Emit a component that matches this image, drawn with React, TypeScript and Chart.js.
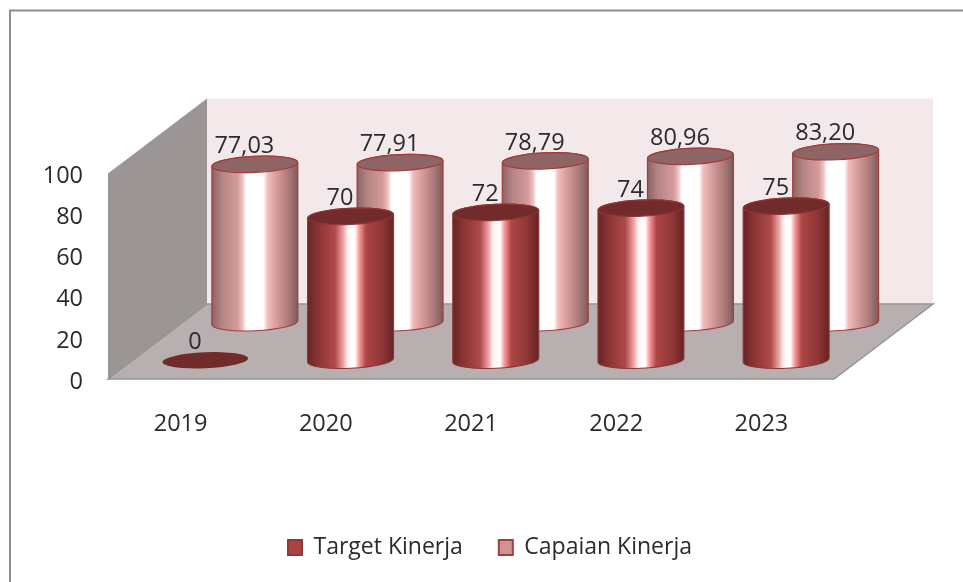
import React, { useEffect, useRef } from "react";
import { Chart, registerables } from "chart.js";

Chart.register(...registerables);

const categories = ["2019", "2020", "2021", "2022", "2023"];
const targetKinerja = [0, 70, 72, 74, 75];
const capaianKinerja = [77.03, 77.91, 78.79, 80.96, 83.2];

const FONT = { family: "'Open Sans', sans-serif", size: 23.5 };
const LEGEND_FONT = { family: "'Open Sans', sans-serif", size: 23 };
const TEXT = "#2b2b2b";
const DEPTH_X = 99;
const DEPTH_Y = 75;

const frontStops: [number, string][] = [
  [0, "#692525"], [0.12, "#8a3333"], [0.32, "#b04a4a"], [0.42, "#f0a8a8"], [0.47, "#fff4f4"],
  [0.55, "#ffffff"], [0.6, "#f89a9a"], [0.68, "#ae4646"], [0.88, "#8c3434"], [1, "#642323"],
];
const backStops: [number, string][] = [
  [0, "#8c6464"], [0.12, "#b58484"], [0.3, "#d49a9a"], [0.36, "#eec4c4"], [0.4, "#ffffff"],
  [0.6, "#ffffff"], [0.65, "#f0bcbc"], [0.78, "#cf9494"], [0.9, "#a87878"], [1, "#7f5a5a"],
];

function cylinder(
  ctx: CanvasRenderingContext2D, cx: number, yTop: number, yBot: number,
  stops: [number, string][], topFill: string, stroke: string,
) {
  const rx = 43, ry = 8, t = -0.045;
  const ox = rx * Math.cos(t), oy = rx * Math.sin(t);
  ctx.lineWidth = 1.2;
  ctx.strokeStyle = stroke;
  if (yBot - yTop > 0.5) {
    const g = ctx.createLinearGradient(cx - rx, 0, cx + rx, 0);
    stops.forEach(([p, c]) => g.addColorStop(p, c));
    ctx.beginPath();
    ctx.moveTo(cx - ox, yTop - oy);
    ctx.lineTo(cx - ox, yBot - oy);
    ctx.ellipse(cx, yBot, rx, ry, t, Math.PI, 0, true);
    ctx.lineTo(cx + ox, yTop + oy);
    ctx.ellipse(cx, yTop, rx, ry, t, 0, Math.PI, true);
    ctx.closePath();
    ctx.fillStyle = g;
    ctx.fill();
    ctx.stroke();
  }
  ctx.beginPath();
  ctx.ellipse(cx, yTop, rx, ry, t, 0, Math.PI * 2);
  ctx.fillStyle = topFill;
  ctx.fill();
  if (yBot - yTop > 0.5) ctx.stroke();
}

const scene = {
  id: "scene",
  beforeDraw(chart: any) {
    const { ctx } = chart;
    ctx.save();
    ctx.fillStyle = "#ffffff";
    ctx.fillRect(0, 0, chart.width, chart.height);
    ctx.strokeStyle = "#8e8e8e";
    ctx.lineWidth = 2;
    ctx.beginPath();
    ctx.moveTo(10, 582);
    ctx.lineTo(10, 10.5);
    ctx.lineTo(963, 10.5);
    ctx.stroke();
    ctx.restore();
  },
  beforeDatasetsDraw(chart: any) {
    const { ctx, chartArea: a, scales } = chart;
    const { x, y } = scales;
    ctx.save();
    ctx.fillStyle = "#f4e9ea";
    ctx.fillRect(a.left + DEPTH_X, a.top - DEPTH_Y, a.right - a.left, a.bottom - a.top);
    ctx.fillStyle = "#9b9595";
    ctx.beginPath();
    ctx.moveTo(a.left, a.top);
    ctx.lineTo(a.left + DEPTH_X, a.top - DEPTH_Y);
    ctx.lineTo(a.left + DEPTH_X, a.bottom - DEPTH_Y);
    ctx.lineTo(a.left, a.bottom);
    ctx.closePath();
    ctx.fill();
    ctx.fillStyle = "#b8b0b0";
    ctx.strokeStyle = "#989393";
    ctx.lineWidth = 1.5;
    ctx.beginPath();
    ctx.moveTo(a.left, a.bottom);
    ctx.lineTo(a.right, a.bottom);
    ctx.lineTo(a.right + DEPTH_X, a.bottom - DEPTH_Y);
    ctx.lineTo(a.left + DEPTH_X, a.bottom - DEPTH_Y);
    ctx.closePath();
    ctx.fill();
    ctx.stroke();

    const base = y.getPixelForValue(0);
    const draw = (vals: number[], depth: number, stops: [number, string][], top: string, stroke: string) => {
      vals.forEach((v, i) => {
        const cx = x.getPixelForValue(i) + DEPTH_X * depth;
        cylinder(ctx, cx, y.getPixelForValue(v) - DEPTH_Y * depth, base - DEPTH_Y * depth, stops, top, stroke);
      });
    };
    draw(capaianKinerja, 0.75, backStops, "#8f6464", "#a23c3c");
    draw(targetKinerja, 0.25, frontStops, "#722b2b", "#8e3535");

    ctx.font = `${FONT.size}px ${FONT.family}`;
    ctx.fillStyle = TEXT;
    ctx.textAlign = "center";
    ctx.textBaseline = "middle";
    const label = (vals: number[], depth: number, fmt: (v: number) => string) => {
      vals.forEach((v, i) => {
        const cx = x.getPixelForValue(i) + DEPTH_X * depth;
        ctx.fillText(fmt(v), cx - 10.5, y.getPixelForValue(v) - DEPTH_Y * depth - 18);
      });
    };
    label(capaianKinerja, 0.75, (v) => v.toFixed(2).replace(".", ","));
    label(targetKinerja, 0.25, (v) => String(v));
    ctx.restore();
    return false;
  },
  afterLayout(chart: any) {
    const l = chart.legend;
    if (l) {
      const w = l.right - l.left;
      l.left = 490 - w / 2;
      l.right = 490 + w / 2;
      l.top = 500;
      l.bottom = 567;
    }
  },
};

export default function App() {
  const ref = useRef<HTMLCanvasElement>(null);
  useEffect(() => {
    const chart = new Chart(ref.current!, {
      type: "bar",
      data: {
        labels: categories,
        datasets: [
          { label: "Target Kinerja", data: targetKinerja, backgroundColor: "#a84444", borderColor: "#8f3a3a", borderWidth: 2 },
          { label: "Capaian Kinerja", data: capaianKinerja, backgroundColor: "#d29292", borderColor: "#a04040", borderWidth: 2 },
        ],
      },
      options: {
        responsive: false,
        animation: false,
        layout: { padding: { left: 0, right: 129, top: 173.5, bottom: 0 } },
        plugins: {
          tooltip: { enabled: false },
          legend: {
            position: "bottom",
            labels: { boxWidth: 14, boxHeight: 15, padding: 36, color: TEXT, font: LEGEND_FONT },
          },
        },
        scales: {
          x: {
            grid: { display: false },
            border: { display: false },
            ticks: { color: TEXT, font: FONT, padding: 23, maxRotation: 0 },
            afterFit: (s: any) => { s.height = 134; },
          },
          y: {
            min: 0,
            max: 100,
            grid: { display: false },
            border: { display: false },
            ticks: { stepSize: 20, color: TEXT, font: FONT, padding: 17, labelOffset: 3 },
            afterFit: (s: any) => { s.width = 108; },
          },
        },
      },
      plugins: [scene],
    } as any);
    return () => chart.destroy();
  }, []);
  return (
    <div style={{ position: "fixed", left: 0, top: 0, width: 963, height: 582 }}>
      <canvas ref={ref} width={963} height={582} style={{ display: "block" }} />
    </div>
  );
}
